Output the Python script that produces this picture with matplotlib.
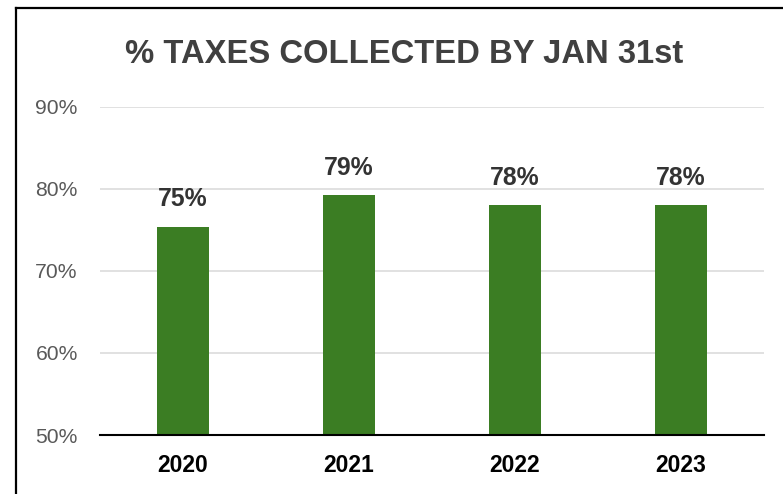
import matplotlib.pyplot as plt
from matplotlib.lines import Line2D

# ----------------------------
# Data
# ----------------------------

years = ["2020", "2021", "2022", "2023"]
pct_collected = [75.4, 79.2, 78.0, 78.0]
y_ticks = [50, 60, 70, 80, 90]

plt.rcParams['font.family'] = ['Liberation Sans', 'DejaVu Sans']

# ----------------------------
# Plot
# ----------------------------

fig = plt.figure(figsize=(7.83, 4.94), dpi=100)
ax = fig.add_axes([0.1277, 0.1194, 0.848, 0.6646])

x = range(len(years))
bars = ax.bar(x, pct_collected, width=0.315, color="#3B7D23", zorder=3)

for xi, v in zip(x, pct_collected):
    ax.annotate(f"{v:.0f}%", (xi, v), xytext=(0, 11), textcoords="offset points",
                ha="center", va="bottom", fontsize=17.8, fontweight="bold",
                color="#333333")

ax.set_xlim(-0.5, len(years) - 0.5)
ax.set_ylim(50, 90)
ax.set_yticks(y_ticks)
ax.set_yticklabels([f"{t}%" for t in y_ticks])
ax.set_xticks(list(x))
ax.set_xticklabels(years)

ax.tick_params(axis="y", length=0, pad=16, labelsize=15.2, labelcolor="#595959")
ax.tick_params(axis="x", length=0, pad=14, labelsize=16.5, labelcolor="black")
for lbl in ax.get_xticklabels():
    lbl.set_fontweight("bold")

ax.yaxis.grid(True, color="#dedede", linewidth=1.3, zorder=0)
for side in ["top", "right", "left"]:
    ax.spines[side].set_visible(False)
ax.spines["bottom"].set_color("black")
ax.spines["bottom"].set_linewidth(1.5)
ax.spines["bottom"].set_zorder(4)

fig.text(0.516, 0.889, "% TAXES COLLECTED BY JAN 31st", ha="center", va="center",
         fontsize=23.6, fontweight="bold", color="#404040")

# frame lines along the top and left edge
fig.add_artist(Line2D([16 / 783, 1], [1 - 8 / 494, 1 - 8 / 494], color="black",
                      linewidth=1.6, transform=fig.transFigure))
fig.add_artist(Line2D([16 / 783, 16 / 783], [0, 1 - 8 / 494], color="black",
                      linewidth=1.6, transform=fig.transFigure))

fig.savefig("out.png", dpi=100)
